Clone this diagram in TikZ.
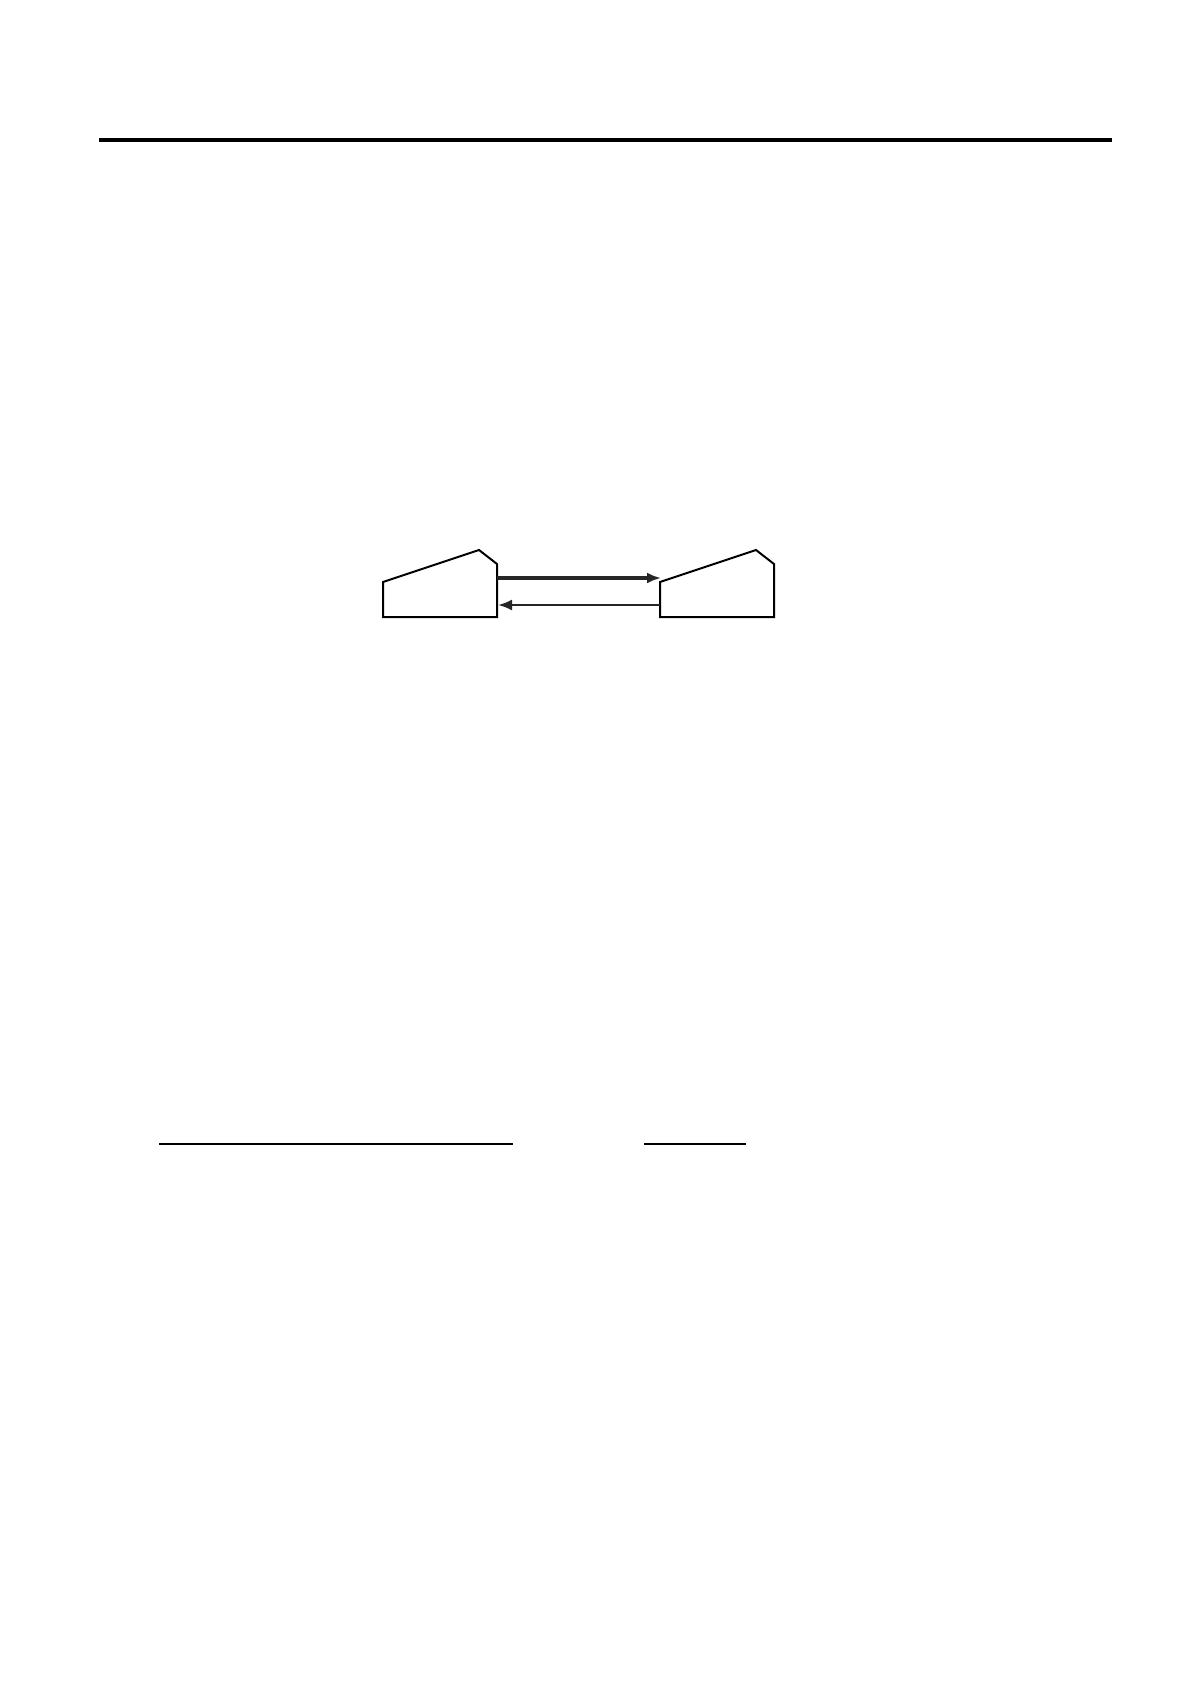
\documentclass[tikz,border=0pt]{standalone}
\usetikzlibrary{arrows.meta}
\begin{document}
\begin{tikzpicture}[x=0.5pt,y=-0.5pt,
  station/.style={draw=black,line width=1pt,line join=miter},
  rule/.style={draw=black,line width=2.4pt},
  thinrule/.style={draw=black,line width=0.8pt},
  fwd/.style={draw=black!85,line width=2pt,-{Latex[length=7pt,width=5.5pt]}},
  back/.style={draw=black!85,line width=1.1pt,-{Latex[length=7pt,width=5.5pt]}}]
\useasboundingbox (0,0) rectangle (1190,1684);
\fill[white] (0,0) rectangle (1190,1684);
% top rule
\coordinate (r1a) at (99,140);
\coordinate (r1b) at (1112,140);
\draw[rule] (r1a) -- (r1b);
% left station
\draw[station] (383,617) -- (383,582) -- (479,550) -- (497,564) -- (497,617) -- cycle;
% right station
\draw[station] (660,617) -- (660,582) -- (756,550) -- (774,564) -- (774,617) -- cycle;
\coordinate (a1s) at (497,578);
\coordinate (a1e) at (661,578);
\coordinate (a2s) at (660,605);
\coordinate (a2e) at (498,605);
\draw[fwd] (a1s) -- (a1e);
\draw[back] (a2s) -- (a2e);
% bottom rules
\coordinate (b1a) at (159,1144);
\coordinate (b1b) at (513,1144);
\coordinate (b2a) at (644,1144);
\coordinate (b2b) at (746,1144);
\draw[thinrule] (b1a) -- (b1b);
\draw[thinrule] (b2a) -- (b2b);
\end{tikzpicture}
\end{document}
